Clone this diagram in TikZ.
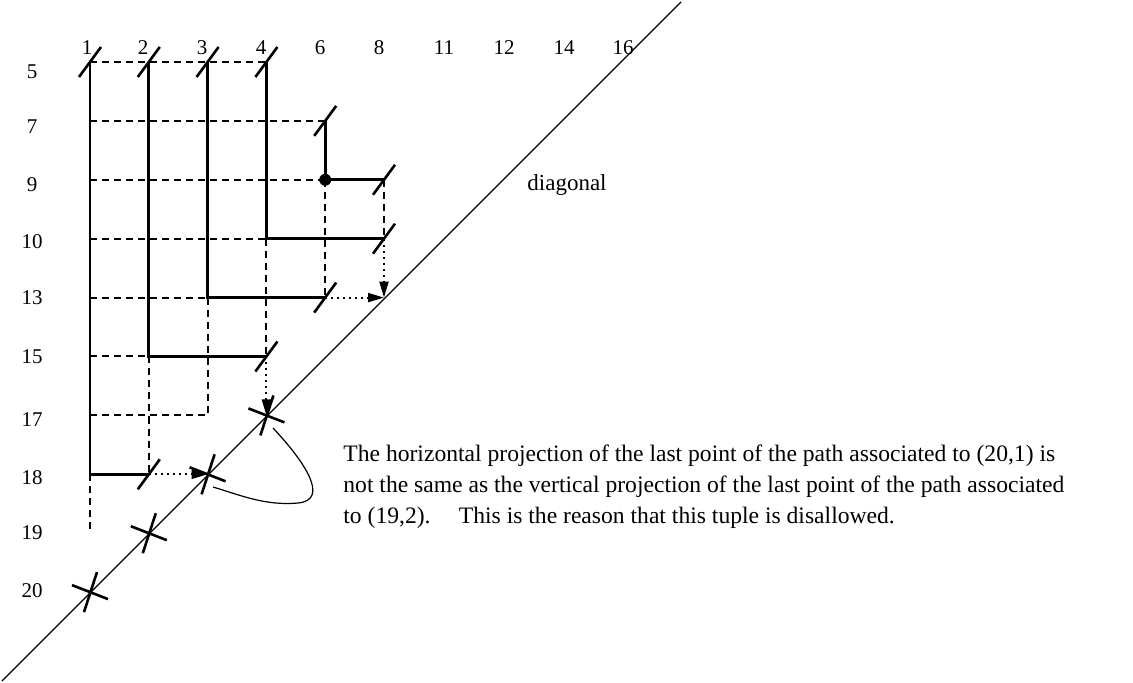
\documentclass[tikz,border=0pt]{standalone}
\usepackage{fontspec}
\setmainfont{Liberation Serif}
\usetikzlibrary{arrows.meta,calc}
\tikzset{
	lbl/.style = {inner sep=0pt, font=\fontsize{10.5}{12}\selectfont},
	dashline/.style = {line width=1pt, dash pattern=on 3.5pt off 2.5pt},
	pathline/.style = {line width=1.4pt},
	projarrow/.style = {line width=1pt, dash pattern=on 1pt off 2pt, -{Triangle[length=8pt,width=4.5pt]}},
	tickline/.style = {line width=1.3pt},
	diagline/.style = {line width=0.7pt},
	loopline/.style = {line width=0.6pt}
}

\begin{document}
\begin{tikzpicture}[x=0.5pt,y=-0.5pt,line cap=butt]
\useasboundingbox (0,0) rectangle (1133,683);

\foreach \c/\i in {1/0,2/1,3/2,4/3,6/4,8/5}
	\foreach \r/\j in {5/0,7/1,9/2,10/3,13/4,15/5,17/6,18/7,19/8,20/9}
		\coordinate (p\c-\r) at ({90+58.8*\i},{62+58.9*\j});

\foreach \c/\x in {1/87,2/143,3/202,4/261,6/320,8/379,11/444,12/504,14/564,16/623}
	\node [lbl] (col\c) at (\x,48) {\c};
\foreach \r/\y in {5/72,7/127,9/185,10/242,13/298,15/357,17/420,18/478,19/533,20/591}
	\node [lbl] (row\r) at (32,\y) {\r};

\coordinate (diagA) at (2,681);
\coordinate (diagB) at (681,2);
\draw [diagline] (diagA) -- (diagB);
\node [lbl, font=\fontsize{11.5}{12}\selectfont] (diag) at (567,185) {diagonal};

\draw [dashline] (p1-5) -- (p4-5);
\draw [dashline] (p1-7) -- (p6-7);
\draw [dashline] (p1-9) -- (p6-9);
\draw [dashline] (p1-10) -- (p4-10);
\draw [dashline] (p1-13) -- (p3-13);
\draw [dashline] (p1-15) -- (p2-15);
\draw [dashline] (p1-17) -- (p3-17) -- (p3-13);
\draw [dashline] (p1-18) -- (p1-19);
\draw [dashline] (p2-15) -- (p2-18);
\draw [dashline] (p4-10) -- (p4-15);
\draw [dashline] (p6-9) -- (p6-13);
\draw [dashline] (p8-9) -- (p8-10);

\draw [pathline] (p1-5) -- (p1-18) -- (p2-18);
\draw [pathline] (p2-5) -- (p2-15) -- (p4-15);
\draw [pathline] (p3-5) -- (p3-13) -- (p6-13);
\draw [pathline] (p4-5) -- (p4-10) -- (p8-10);
\draw [pathline] (p6-7) -- (p6-9) -- (p8-9);
\fill (p6-9) circle (3pt);

\draw [projarrow] (p2-18) -- (p3-18);
\draw [projarrow] (p4-15) -- (p4-17);
\draw [projarrow] (p6-13) -- (p8-13);
\draw [projarrow] (p8-10) -- (p8-13);

\foreach \p in {p1-5,p2-5,p3-5,p4-5,p6-7,p8-9,p8-10,p6-13,p4-15,p2-18}
	\draw [tickline] ([shift={(-11,15)}]\p) -- ([shift={(11,-15)}]\p);
\foreach \p in {p4-17,p3-18,p2-19,p1-20}
	\draw [tickline] ([shift={(-18,-7)}]\p) -- ([shift={(18,7)}]\p)
		([shift={(-6,20)}]\p) -- ([shift={(7,-20)}]\p);

\coordinate (loopA) at (273,428);
\coordinate (loopB) at (213,487);
\draw [loopline] (loopA) .. controls (305,462) and (330,500) .. (298,503)
	.. controls (265,506) and (240,495) .. (loopB);

\node [lbl, anchor=base west, align=left, font=\fontsize{11.8}{15.5}\selectfont] (note) at (343,523)
	{The horizontal projection of the last point of the path associated to (20,1) is\\
	not the same as the vertical projection of the last point of the path associated\\
	to (19,2).\hspace{1.2em}This is the reason that this tuple is disallowed.};
\end{tikzpicture}
\end{document}
